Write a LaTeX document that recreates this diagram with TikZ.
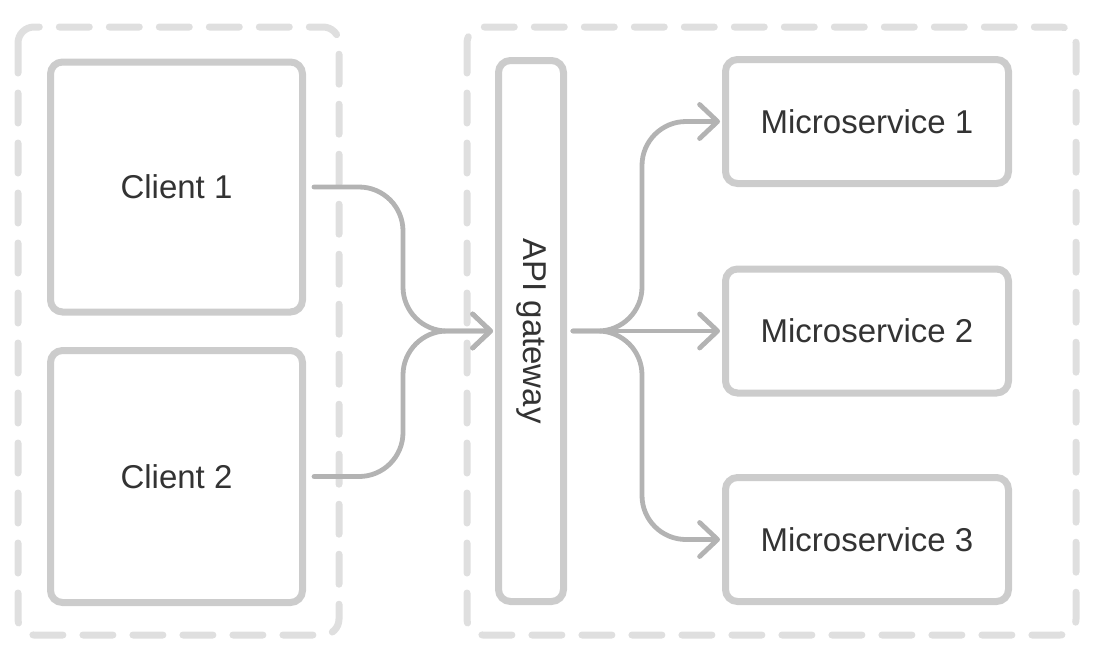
\documentclass[tikz,border=0pt]{standalone}
\usepackage{fontspec}
\usepackage{graphicx}
\setmainfont{Liberation Sans}
\usetikzlibrary{arrows.meta}

\definecolor{zonegray}{HTML}{DFDFDF}
\definecolor{boxgray}{HTML}{CCCCCC}
\definecolor{linkgray}{HTML}{B3B3B3}
\definecolor{labelgray}{HTML}{333333}

\tikzset{
  zone/.style={draw=zonegray, line width=3.5pt, rounded corners=8pt,
    dash pattern=on 15pt off 10pt, line cap=round},
  box/.style={draw=boxgray, line width=3.5pt, rounded corners=6pt, fill=white,
    text=labelgray, inner sep=0pt, font=\fontsize{16.5}{20}\selectfont},
  link/.style={draw=linkgray, line width=2.4pt, line cap=round, rounded corners=22pt,
    -{Straight Barb[length=9pt,width=17pt,round]}, shorten >=1pt},
}

\begin{document}
\begin{tikzpicture}[x=0.5pt,y=-0.5pt]
\useasboundingbox (0,0) rectangle (1096,661);

% groups
\draw[zone] (18,27) rectangle (339,635);
\draw[zone] (467,27) rectangle (1076,635);

% clients
\node[box, minimum width=126pt, minimum height=125pt] (client1) at (176.5,187) {Client 1};
\node[box, minimum width=126pt, minimum height=126pt] (client2) at (176.5,476.5) {Client 2};

% gateway
\node[box, minimum width=32.5pt, minimum height=270.5pt] (gw) at (531,331) {\rotatebox{-90}{API gateway}};

% services
\node[box, minimum width=141.5pt, minimum height=62pt] (ms1) at (867,121.5) {Microservice 1};
\node[box, minimum width=141.5pt, minimum height=62pt] (ms2) at (867,331) {Microservice 2};
\node[box, minimum width=141.5pt, minimum height=62pt] (ms3) at (867,539.5) {Microservice 3};

% junctions
\coordinate (lj) at (403,331);
\coordinate (rj) at (642,331);

% links
\draw[link, shorten <=4pt] (client1.east) -| (lj) -- (gw.west);
\draw[link, shorten <=4pt] (client2.east) -| (lj) -- (gw.west);
\draw[link, shorten <=3pt] (gw.east) -- (rj) |- (ms1.west);
\draw[link, shorten <=3pt] (gw.east) -- (ms2.west);
\draw[link, shorten <=3pt] (gw.east) -- (rj) |- (ms3.west);
\end{tikzpicture}
\end{document}
